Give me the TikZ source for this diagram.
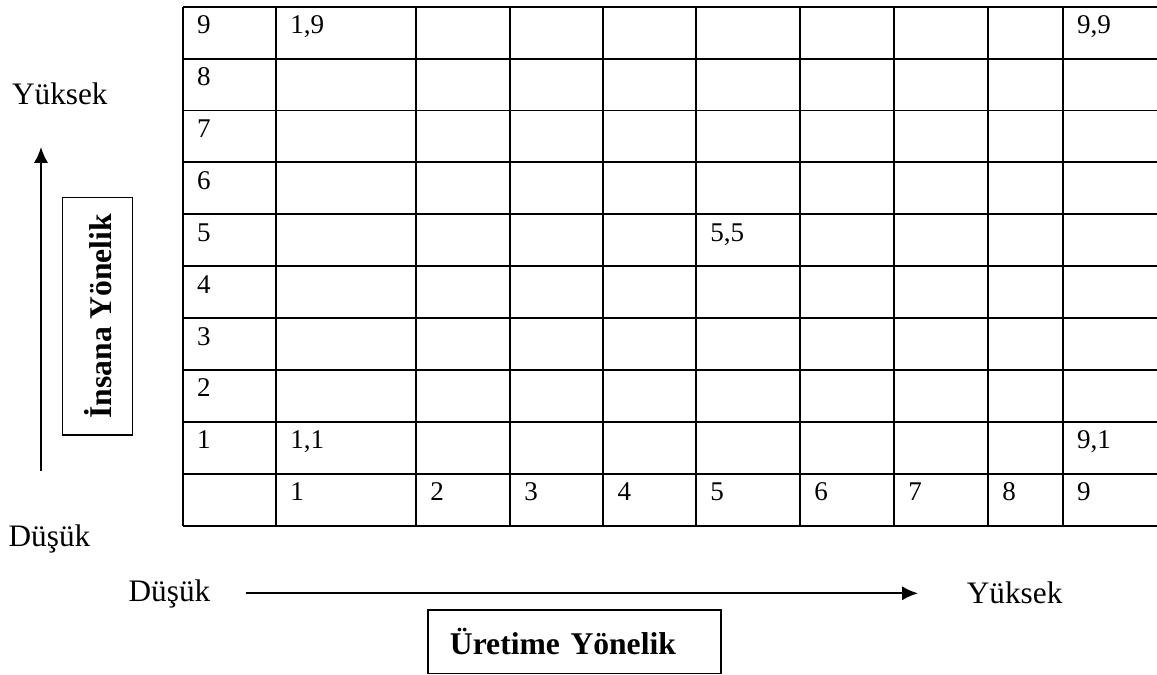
\documentclass[tikz,border=0pt]{standalone}
\usepackage{fontspec}
\setmainfont{Liberation Serif}
\usetikzlibrary{arrows.meta}
\tikzset{
  gridline/.style={line width=1.1pt},
  cell/.style={anchor=base west,inner sep=0pt,font=\fontsize{15.4}{18}\selectfont},
  endlabel/.style={anchor=base west,inner sep=0pt,font=\fontsize{17.8}{21}\selectfont},
  titlebox/.style={draw,line width=0.75pt,font=\bfseries\fontsize{18}{21}\selectfont},
  axisarrow/.style={line width=1.1pt,-{Latex[length=9pt,width=8pt]}}
}
\begin{document}
\begin{tikzpicture}[x=0.02cm,y=-0.02cm]
    \useasboundingbox (0,0) rectangle (1157,675);
    % table
    \foreach \x in {182.7,276,416,510,603.3,696,800,894,988,1062.7,1160}
      \draw[gridline] (\x,6.7) -- (\x,525.7);
    \foreach \i in {0,...,10}
      \draw[gridline] (182.7,6.7+51.9*\i) -- (1160,6.7+51.9*\i);
    \foreach \n [count=\i from 0] in {9,8,7,6,5,4,3,2,1}
      \node[cell] (row\n) at (196.7,33.7+51.9*\i) {\n};
    \foreach \c/\x in {1/276,2/416,3/510,4/603.3,5/696,6/800,7/894,8/988,9/1062.7}
      \node[cell] (col\c) at (\x+14,500.9) {\c};
    \node[cell] (v19) at (290,33.7) {1,9};
    \node[cell] (v99) at (1076.7,33.7) {9,9};
    \node[cell] (v55) at (710,241.3) {5,5};
    \node[cell] (v11) at (290,448.9) {1,1};
    \node[cell] (v91) at (1076.7,448.9) {9,1};
    % vertical axis
    \node[endlabel] (yhigh) at (11.7,105) {Yüksek};
    \node[endlabel] (ylow) at (8.3,547) {Düşük};
    \coordinate (ybot) at (41,471);
    \coordinate (ytop) at (41,147);
    \draw[axisarrow] (ybot) -- (ytop);
    \node[titlebox,rotate=90,minimum width=135.3pt,minimum height=39.8pt] (human) at (97.7,316.2) {İnsana Yönelik};
    % horizontal axis
    \node[endlabel] (xlow) at (128.3,601.7) {Düşük};
    \node[endlabel] (xhigh) at (966.5,603) {Yüksek};
    \coordinate (xleft) at (245.7,593.3);
    \coordinate (xright) at (918,593.3);
    \draw[axisarrow] (xleft) -- (xright);
    \node[titlebox,anchor=west,inner xsep=12.5pt,text width=141.8pt,align=left,minimum height=36pt] (production) at (427.3,641.7) {Üretime Yönelik};
\end{tikzpicture}
\end{document}
